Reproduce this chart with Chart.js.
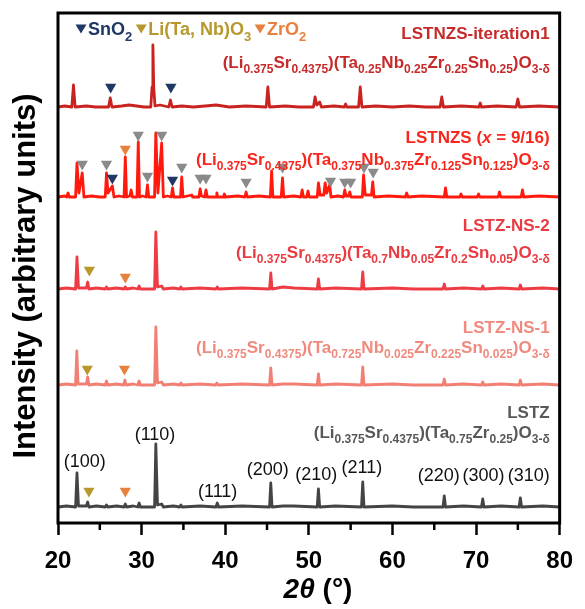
<!DOCTYPE html>
<html>
<head>
<meta charset="utf-8">
<script src="https://cdn.jsdelivr.net/npm/chart.js@4.4.1/dist/chart.umd.min.js"></script>
<style>
html, body { margin: 0; padding: 0; background: #fff; }
</style>
</head>
<body>
<canvas id="xrd" width="585" height="609"></canvas>
<script>
// XRD patterns: [2theta, intensity] with the stacking offset already in (arb. units)
const iterData = [[20,416],[20.8,417],[21.65,416],[21.85,438],[22.05,416],[23.4,417],[24.5,416],[26.05,416],[26.25,425],[26.45,416],[27.6,417],[28.5,418],[29.4,417],[30.3,416],[31.1,416],[31.25,436],[31.35,478],[31.45,436],[31.6,417],[32.2,418],[33.25,416],[33.45,423],[33.65,416],[34.8,417],[36.2,416],[37.6,417],[38.9,418],[40.5,416],[42.5,417],[44.9,416],[45.1,436],[45.3,416],[47.2,417],[48.8,416],[50.55,416],[50.75,426],[50.95,418],[51.3,421],[51.5,416],[53.0,417],[54.25,416],[54.4,419],[54.55,416],[55.95,416],[56.15,436],[56.35,416],[58.0,417],[60.0,416],[62.0,417],[64.0,416],[65.7,416],[65.9,426],[66.1,416],[68.2,417],[70.35,416],[70.5,420],[70.65,416],[72.5,417],[74.8,416],[75.0,424],[75.2,416],[77.5,417],[80,416]];

const lstnzsData = [[20,326],[20.8,327],[21.05,326],[21.2,330],[21.35,326],[22.1,326],[22.27,360],[22.5,330],[22.9,350],[23.1,326],[24.0,327],[25.0,326],[25.65,326],[25.8,350],[25.98,330],[26.5,337],[26.7,326],[27.3,327],[27.9,326],[28.05,366],[28.2,326],[28.6,327],[28.75,333],[28.9,326],[29.45,326],[29.6,381],[29.75,326],[30.1,327],[30.55,326],[30.7,338],[30.85,326],[31.55,326],[31.7,390],[31.95,330],[32.4,380],[32.6,326],[33.1,327],[33.55,326],[33.7,335],[33.85,326],[34.65,326],[34.8,346],[34.95,326],[36.0,328],[36.1,326],[36.85,326],[37.0,334],[37.15,327],[37.55,326],[37.7,333],[37.85,326],[38.9,326],[39.0,330],[39.1,326],[39.8,326],[39.9,329],[40.0,326],[41.5,327],[42.35,326],[42.5,331],[42.65,326],[44.0,327],[45.4,326],[45.55,352],[45.7,326],[46.7,326],[46.85,345],[47.0,326],[48.2,327],[49.05,326],[49.2,333],[49.35,326],[49.75,326],[49.9,332],[50.05,326],[51.0,326],[51.15,340],[51.35,328],[51.8,328],[51.95,340],[52.15,330],[52.5,338],[52.65,326],[53.5,327],[54.15,326],[54.3,333],[54.45,327],[54.75,327],[54.9,331],[55.05,326],[56.4,326],[56.55,348],[56.75,328],[57.5,328],[57.65,341],[57.8,326],[59.5,327],[61.55,326],[61.7,330],[61.85,326],[63.5,327],[66.2,326],[66.35,335],[66.5,326],[68.05,326],[68.2,329],[68.35,326],[70.15,326],[70.3,329],[70.45,326],[72.65,326],[72.8,331],[72.95,326],[75.4,326],[75.55,333],[75.7,326],[77.5,327],[80,326]];

const ns2Data = [[20,234],[21.0,235],[22.1,234],[22.27,266],[22.45,235],[23.4,235],[23.55,241],[23.7,234],[24.6,235],[25.65,234],[25.8,236],[25.95,234],[27.0,235],[27.9,234],[28.05,236],[28.2,234],[29.0,235],[29.55,234],[29.7,237],[29.85,234],[31.55,234],[31.7,291],[31.9,236],[32.4,237],[32.6,234],[33.8,235],[34.55,234],[34.7,236],[34.85,234],[37.0,235],[38.9,234],[39.05,236],[39.2,234],[42.0,235],[45.3,234],[45.45,250],[45.6,234],[46.9,236],[48.2,235],[51.0,234],[51.15,244],[51.3,234],[53.2,235],[56.3,234],[56.45,251],[56.6,234],[60.0,235],[62.5,234],[66.05,234],[66.2,239],[66.35,234],[68.5,235],[70.65,234],[70.8,237],[70.95,234],[73.0,235],[75.15,234],[75.3,238],[75.45,234],[78.0,235],[80,234]];

const ns1Data = [[20,138],[21.0,139],[22.1,138],[22.25,172],[22.4,139],[23.4,139],[23.55,146],[23.7,138],[24.6,139],[25.65,138],[25.8,142],[25.95,138],[27.0,139],[27.85,138],[28.0,143],[28.15,138],[29.0,139],[29.55,138],[29.7,142],[29.85,138],[31.55,138],[31.7,196],[31.9,140],[32.4,141],[32.6,138],[33.8,139],[34.55,138],[34.7,140],[34.85,138],[37.0,139],[38.85,138],[39.0,140],[39.15,138],[42.0,139],[45.3,138],[45.45,155],[45.6,138],[46.9,139],[48.2,139],[51.0,138],[51.15,149],[51.3,138],[53.2,139],[56.3,138],[56.45,156],[56.6,138],[60.0,139],[62.5,138],[66.05,138],[66.2,144],[66.35,138],[68.5,139],[70.65,138],[70.8,141],[70.95,138],[73.0,139],[75.15,138],[75.3,143],[75.45,138],[78.0,139],[80,138]];

const lstzData = [[20,16],[21.0,17],[22.1,16],[22.27,50],[22.45,17],[23.4,17],[23.55,21],[23.7,16],[24.6,17],[25.65,16],[25.8,18],[25.95,16],[27.0,17],[27.9,16],[28.05,19],[28.2,16],[29.0,17],[29.55,16],[29.7,20],[29.85,16],[31.55,16],[31.7,79],[31.9,18],[32.4,19],[32.6,16],[33.8,17],[34.55,16],[34.7,18],[34.85,16],[37.0,17],[38.9,16],[39.05,20],[39.2,16],[42.0,17],[45.3,16],[45.45,40],[45.6,16],[46.9,17],[48.2,17],[51.0,16],[51.15,34],[51.3,16],[53.2,17],[56.3,16],[56.45,41],[56.6,16],[60.0,17],[62.5,16],[66.05,16],[66.2,27],[66.35,16],[68.5,17],[70.65,16],[70.8,24],[70.95,16],[73.0,17],[75.15,16],[75.3,25],[75.45,16],[78.0,17],[80,16]];

// phase markers [2theta, height]
const sno2Marks = [[26.3,436],[33.5,436],[26.5,345],[33.7,343]];
const litanbMarks = [[23.5,154],[23.75,253],[23.7,32]];
const zro2Marks = [[28.05,374],[27.95,154],[28.05,246],[28.05,32]];
const otherMarks = [[22.9,359],[25.8,359],[29.6,388],[30.7,347],[32.4,388],[34.8,356],[37.0,345],[37.7,345],[42.5,341],[46.85,356],[52.6,342],[54.3,341],[55.0,341],[56.6,356],[57.7,351]];

// perovskite reflections of LSTZ
const hklNames = ['(100)', '(110)', '(111)', '(200)', '(210)', '(211)', '(220)', '(300)', '(310)'];
const hklAt = [[23.2,61],[31.6,88],[39.1,31],[45.1,53],[50.9,48],[56.35,55],[65.55,47],[70.9,47],[76.3,47]];

const sampleNames = ['LSTNZS-iteration1', 'LSTNZS (*x* = 9/16)', 'LSTZ-NS-2', 'LSTZ-NS-1', 'LSTZ'];
const sampleFormulas = [
  '(Li_{0.375}Sr_{0.4375})(Ta_{0.25}Nb_{0.25}Zr_{0.25}Sn_{0.25})O_{3-δ}',
  '(Li_{0.375}Sr_{0.4375})(Ta_{0.375}Nb_{0.375}Zr_{0.125}Sn_{0.125})O_{3-δ}',
  '(Li_{0.375}Sr_{0.4375})(Ta_{0.7}Nb_{0.05}Zr_{0.2}Sn_{0.05})O_{3-δ}',
  '(Li_{0.375}Sr_{0.4375})(Ta_{0.725}Nb_{0.025}Zr_{0.225}Sn_{0.025})O_{3-δ}',
  '(Li_{0.375}Sr_{0.4375})(Ta_{0.75}Zr_{0.25})O_{3-δ}'
];
const xTicks = [20, 30, 40, 50, 60, 70, 80];

const FONT = '"Liberation Sans", Arial, sans-serif';
const NAVY = '#1f3864', GOLD = '#b6982c', ORANGE = '#e8813d', GREY = '#8a8a8a';

function pts(arr) { return arr.map(p => ({x: p[0], y: p[1]})); }

function trace(data, color) {
  return {data: pts(data), borderColor: color, borderWidth: 2.8, borderJoinStyle: 'round',
    borderCapStyle: 'round', pointRadius: 0, tension: 0, order: 2};
}
function marks(data, color) {
  return {data: pts(data), showLine: false, pointStyle: 'triangle', rotation: 180,
    pointRadius: 6.5, pointBackgroundColor: color, pointBorderWidth: 0, order: 1};
}

// text with _{sub} and *italic* pieces
function parts(str) {
  return str.split(/(_\{[^}]*\}|\*[^*]*\*)/).filter(s => s).map(s => {
    if (s.startsWith('_{')) return {t: s.slice(2, -1), k: 's'};
    if (s.startsWith('*')) return {t: s.slice(1, -1), k: 'i'};
    return {t: s, k: 'n'};
  });
}
function fontFor(k, size) {
  if (k === 's') return 'bold ' + Math.round(size * 0.7) + 'px ' + FONT;
  if (k === 'i') return 'italic bold ' + size + 'px ' + FONT;
  return 'bold ' + size + 'px ' + FONT;
}
function drawRich(ctx, str, x, yMid, size, color, align) {
  const ps = parts(str);
  let w = 0;
  ps.forEach(p => { ctx.font = fontFor(p.k, size); p.w = ctx.measureText(p.t).width; w += p.w; });
  let cx = align === 'right' ? x - w : x;
  const base = yMid + size * 0.36;
  ctx.fillStyle = color;
  ctx.textAlign = 'left';
  ctx.textBaseline = 'alphabetic';
  ps.forEach(p => {
    ctx.font = fontFor(p.k, size);
    ctx.fillText(p.t, cx, p.k === 's' ? base + size * 0.3 : base);
    cx += p.w;
  });
  return w;
}

const deco = {
  id: 'deco',
  afterDraw(chart) {
    const {ctx, chartArea: a, scales: {x, y}} = chart;
    ctx.save();
    // frame
    ctx.strokeStyle = '#000';
    ctx.lineWidth = 3;
    ctx.strokeRect(a.left, a.top, a.right - a.left, a.bottom - a.top);
    // minor ticks
    ctx.lineWidth = 2.5;
    for (let i = 0; i < xTicks.length - 1; i++) {
      const px = x.getPixelForValue((xTicks[i] + xTicks[i + 1]) / 2);
      ctx.beginPath(); ctx.moveTo(px, a.bottom); ctx.lineTo(px, a.bottom + 7); ctx.stroke();
    }
    // hkl labels
    ctx.fillStyle = '#111';
    ctx.font = '18px ' + FONT;
    ctx.textAlign = 'center';
    ctx.textBaseline = 'middle';
    hklNames.forEach((h, i) => ctx.fillText(h, x.getPixelForValue(hklAt[i][0]), y.getPixelForValue(hklAt[i][1])));
    // sample labels
    const nameCol = ['#c62a2a', '#f8261c', '#ea3a42', '#f08a7e', '#585858'];
    const nameY = [490, 386, 298, 196, 111];
    const formY = [461, 364, 271, 176, 91];
    const xr = a.right - 10;
    sampleNames.forEach((n, i) => {
      drawRich(ctx, n, xr, y.getPixelForValue(nameY[i]), 17, nameCol[i], 'right');
      drawRich(ctx, sampleFormulas[i], xr, y.getPixelForValue(formY[i]), 17, nameCol[i], 'right');
    });
    // phase key
    let lx = 81;
    const ly = 29;
    [['SnO_{2}', NAVY], ['Li(Ta, Nb)O_{3}', GOLD], ['ZrO_{2}', ORANGE]].forEach(k => {
      ctx.fillStyle = k[1];
      ctx.beginPath();
      ctx.moveTo(lx - 5.5, ly - 4.5); ctx.lineTo(lx + 5.5, ly - 4.5); ctx.lineTo(lx, ly + 4.5);
      ctx.closePath(); ctx.fill();
      const w = drawRich(ctx, k[0], lx + 7, ly, 18, k[1], 'left');
      lx += 7 + w + 9;
    });
    // axis titles
    ctx.fillStyle = '#000';
    ctx.save();
    ctx.translate(26, 276);
    ctx.rotate(-Math.PI / 2);
    ctx.font = 'bold 31px ' + FONT;
    ctx.textAlign = 'center';
    ctx.textBaseline = 'middle';
    ctx.fillText('Intensity (arbitrary units)', 0, 0);
    ctx.restore();
    const t1 = '2θ', t2 = ' (°)';
    ctx.font = 'italic bold 28px ' + FONT;
    const w1 = ctx.measureText(t1).width;
    ctx.font = 'bold 28px ' + FONT;
    const w2 = ctx.measureText(t2).width;
    let tx = 318 - (w1 + w2) / 2;
    ctx.textAlign = 'left';
    ctx.textBaseline = 'middle';
    ctx.font = 'italic bold 28px ' + FONT;
    ctx.fillText(t1, tx, 590);
    ctx.font = 'bold 28px ' + FONT;
    ctx.fillText(t2, tx + w1, 590);
    ctx.restore();
  }
};

new Chart(document.getElementById('xrd'), {
  type: 'line',
  data: {
    datasets: [
      marks(sno2Marks, NAVY),
      marks(litanbMarks, GOLD),
      marks(zro2Marks, ORANGE),
      marks(otherMarks, GREY),
      trace(iterData, '#c8231f'),
      trace(lstnzsData, '#ff1a0d'),
      trace(ns2Data, '#ef3b43'),
      trace(ns1Data, '#f27f74'),
      trace(lstzData, '#444444')
    ]
  },
  options: {
    responsive: false,
    animation: false,
    layout: {padding: {left: 58, right: 15, top: 13, bottom: 0}},
    plugins: {legend: {display: false}, tooltip: {enabled: false}},
    scales: {
      x: {
        type: 'linear', min: 20, max: 80,
        afterBuildTicks: s => { s.ticks = xTicks.map(v => ({value: v})); },
        afterFit: s => { s.height = 86; },
        ticks: {font: {family: FONT, size: 24, weight: 'bold'}, color: '#000', padding: 12},
        grid: {drawOnChartArea: false, tickLength: 12, tickWidth: 2.5, tickColor: '#000'},
        border: {display: false}
      },
      y: {display: false, min: 0, max: 510}
    }
  },
  plugins: [deco]
});
</script>
</body>
</html>
